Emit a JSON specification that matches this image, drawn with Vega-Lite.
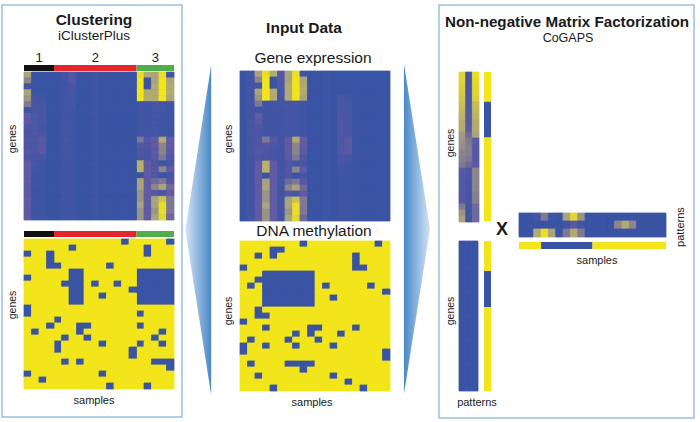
{
"$schema":"https://vega.github.io/schema/vega-lite/v6.json",
"width":700,"height":422,"autosize":"none","padding":0,"background":"white",
"config":{"view":{"stroke":null},"text":{"font":"Liberation Sans","fill":"#1a1a1a"}},
"data":{"values":[{}]},
"datasets":{
"perm":[{"col":"c0","lc":"c4"},{"col":"c1","lc":"c5"},{"col":"c2","lc":"c0"},{"col":"c3","lc":"c15"},{"col":"c4","lc":"c16"},{"col":"c5","lc":"c6"},{"col":"c6","lc":"c17"},{"col":"c7","lc":"c18"},{"col":"c8","lc":"c19"},{"col":"c9","lc":"c7"},{"col":"c10","lc":"c8"},{"col":"c11","lc":"c9"},{"col":"c12","lc":"c10"},{"col":"c13","lc":"c1"},{"col":"c14","lc":"c2"},{"col":"c15","lc":"c3"},{"col":"c16","lc":"c11"},{"col":"c17","lc":"c12"},{"col":"c18","lc":"c13"},{"col":"c19","lc":"c14"}],
"clusters":[{"k":"1","from":0,"to":4},{"k":"2","from":4,"to":15},{"k":"3","from":15,"to":20}],
"expr":[
{"r":0,"c0":0,"c1":0.05,"c2":0.55,"c3":0.95,"c4":0.6,"c5":0.2,"c6":0.55,"c7":0.95,"c8":0.05,"c9":0,"c10":0,"c11":0.03,"c12":0,"c13":0,"c14":0,"c15":0,"c16":0,"c17":0,"c18":0,"c19":0},
{"r":1,"c0":0,"c1":0.05,"c2":0.45,"c3":1,"c4":0.02,"c5":0.2,"c6":0.55,"c7":1,"c8":0.55,"c9":0,"c10":0,"c11":0.03,"c12":0,"c13":0,"c14":0,"c15":0,"c16":0,"c17":0,"c18":0,"c19":0},
{"r":2,"c0":0,"c1":0.05,"c2":0.05,"c3":1,"c4":0.02,"c5":0.15,"c6":0.6,"c7":1,"c8":0.6,"c9":0,"c10":0,"c11":0.03,"c12":0,"c13":0,"c14":0,"c15":0,"c16":0,"c17":0,"c18":0,"c19":0},
{"r":3,"c0":0,"c1":0.05,"c2":0.55,"c3":1,"c4":0.6,"c5":0.1,"c6":0.6,"c7":1,"c8":0.6,"c9":0,"c10":0,"c11":0.03,"c12":0,"c13":0,"c14":0,"c15":0,"c16":0,"c17":0,"c18":0,"c19":0},
{"r":4,"c0":0,"c1":0.05,"c2":0.5,"c3":1,"c4":0.6,"c5":0.1,"c6":0.6,"c7":1,"c8":0.55,"c9":0,"c10":0,"c11":0.03,"c12":0,"c13":0.12,"c14":0.05,"c15":0,"c16":0,"c17":0,"c18":0,"c19":0},
{"r":5,"c0":0,"c1":0.05,"c2":0.4,"c3":0.05,"c4":0.05,"c5":0.08,"c6":0.1,"c7":0.08,"c8":0.05,"c9":0,"c10":0,"c11":0.03,"c12":0,"c13":0.12,"c14":0.1,"c15":0,"c16":0,"c17":0,"c18":0,"c19":0},
{"r":6,"c0":0,"c1":0.05,"c2":0.02,"c3":0.05,"c4":0.05,"c5":0.06,"c6":0.08,"c7":0.06,"c8":0.04,"c9":0,"c10":0,"c11":0.03,"c12":0,"c13":0.12,"c14":0.1,"c15":0,"c16":0,"c17":0,"c18":0,"c19":0},
{"r":7,"c0":0,"c1":0.05,"c2":0.3,"c3":0.05,"c4":0.05,"c5":0.06,"c6":0.08,"c7":0.06,"c8":0.04,"c9":0,"c10":0,"c11":0.03,"c12":0,"c13":0.15,"c14":0.1,"c15":0,"c16":0,"c17":0,"c18":0,"c19":0},
{"r":8,"c0":0,"c1":0.08,"c2":0.25,"c3":0.05,"c4":0.05,"c5":0.06,"c6":0.08,"c7":0.06,"c8":0.04,"c9":0,"c10":0,"c11":0.03,"c12":0,"c13":0.15,"c14":0.12,"c15":0,"c16":0,"c17":0,"c18":0,"c19":0},
{"r":9,"c0":0,"c1":0.1,"c2":0.15,"c3":0.05,"c4":0.05,"c5":0.06,"c6":0.08,"c7":0.06,"c8":0.04,"c9":0,"c10":0,"c11":0.03,"c12":0,"c13":0.15,"c14":0.1,"c15":0,"c16":0,"c17":0,"c18":0,"c19":0},
{"r":10,"c0":0,"c1":0.1,"c2":0.12,"c3":0.05,"c4":0.05,"c5":0.06,"c6":0.1,"c7":0.06,"c8":0.04,"c9":0,"c10":0,"c11":0.03,"c12":0,"c13":0.15,"c14":0.12,"c15":0,"c16":0,"c17":0,"c18":0,"c19":0},
{"r":11,"c0":0,"c1":0.08,"c2":0.15,"c3":0.4,"c4":0.2,"c5":0.06,"c6":0.3,"c7":0.6,"c8":0.3,"c9":0,"c10":0,"c11":0.03,"c12":0,"c13":0.15,"c14":0.25,"c15":0,"c16":0,"c17":0,"c18":0,"c19":0},
{"r":12,"c0":0,"c1":0.08,"c2":0.15,"c3":0.2,"c4":0.15,"c5":0.06,"c6":0.3,"c7":0.45,"c8":0.3,"c9":0,"c10":0,"c11":0.03,"c12":0,"c13":0.15,"c14":0.25,"c15":0,"c16":0,"c17":0,"c18":0,"c19":0},
{"r":13,"c0":0,"c1":0.08,"c2":0.2,"c3":0.15,"c4":0.12,"c5":0.06,"c6":0.28,"c7":0.45,"c8":0.25,"c9":0,"c10":0,"c11":0.03,"c12":0,"c13":0.15,"c14":0.25,"c15":0,"c16":0,"c17":0,"c18":0,"c19":0},
{"r":14,"c0":0,"c1":0.06,"c2":0.15,"c3":0.12,"c4":0.1,"c5":0.06,"c6":0.25,"c7":0.4,"c8":0.15,"c9":0,"c10":0,"c11":0.03,"c12":0,"c13":0.12,"c14":0.08,"c15":0,"c16":0,"c17":0,"c18":0,"c19":0},
{"r":15,"c0":0,"c1":0.06,"c2":0.3,"c3":0.65,"c4":0.3,"c5":0.06,"c6":0.15,"c7":0.05,"c8":0.1,"c9":0,"c10":0,"c11":0.03,"c12":0,"c13":0.1,"c14":0.05,"c15":0,"c16":0,"c17":0,"c18":0,"c19":0},
{"r":16,"c0":0,"c1":0.06,"c2":0.3,"c3":0.65,"c4":0.3,"c5":0.06,"c6":0.2,"c7":0.45,"c8":0.3,"c9":0,"c10":0,"c11":0.03,"c12":0,"c13":0.05,"c14":0.03,"c15":0,"c16":0,"c17":0,"c18":0,"c19":0},
{"r":17,"c0":0,"c1":0.06,"c2":0.3,"c3":0,"c4":0.3,"c5":0.06,"c6":0.15,"c7":0,"c8":0.1,"c9":0,"c10":0,"c11":0.03,"c12":0,"c13":0.03,"c14":0.03,"c15":0,"c16":0,"c17":0,"c18":0,"c19":0},
{"r":18,"c0":0,"c1":0.06,"c2":0.3,"c3":0.55,"c4":0.3,"c5":0.06,"c6":0.35,"c7":0.4,"c8":0.2,"c9":0,"c10":0,"c11":0.03,"c12":0,"c13":0.03,"c14":0.03,"c15":0,"c16":0,"c17":0,"c18":0,"c19":0},
{"r":19,"c0":0,"c1":0.06,"c2":0.28,"c3":0.55,"c4":0.3,"c5":0.06,"c6":0.45,"c7":0.55,"c8":0.35,"c9":0,"c10":0,"c11":0.03,"c12":0,"c13":0.03,"c14":0.03,"c15":0,"c16":0,"c17":0,"c18":0,"c19":0},
{"r":20,"c0":0,"c1":0.06,"c2":0.28,"c3":0.5,"c4":0.3,"c5":0.06,"c6":0.2,"c7":0.1,"c8":0.3,"c9":0,"c10":0,"c11":0.03,"c12":0,"c13":0.03,"c14":0.03,"c15":0,"c16":0,"c17":0,"c18":0,"c19":0},
{"r":21,"c0":0,"c1":0.06,"c2":0.3,"c3":0.5,"c4":0.28,"c5":0.06,"c6":0.55,"c7":0.75,"c8":0.4,"c9":0,"c10":0,"c11":0.03,"c12":0,"c13":0.03,"c14":0.03,"c15":0,"c16":0,"c17":0,"c18":0,"c19":0},
{"r":22,"c0":0,"c1":0.06,"c2":0.3,"c3":0.55,"c4":0.3,"c5":0.06,"c6":0.55,"c7":0.95,"c8":0.4,"c9":0,"c10":0,"c11":0.03,"c12":0,"c13":0.03,"c14":0.03,"c15":0,"c16":0,"c17":0,"c18":0,"c19":0},
{"r":23,"c0":0,"c1":0.06,"c2":0.28,"c3":0.5,"c4":0.3,"c5":0.06,"c6":0.5,"c7":0.95,"c8":0.4,"c9":0,"c10":0,"c11":0.03,"c12":0,"c13":0.03,"c14":0.03,"c15":0,"c16":0,"c17":0,"c18":0,"c19":0},
{"r":24,"c0":0,"c1":0.06,"c2":0.3,"c3":0.5,"c4":0.3,"c5":0.06,"c6":0.55,"c7":0.9,"c8":0.35,"c9":0,"c10":0,"c11":0.03,"c12":0,"c13":0.03,"c14":0.03,"c15":0,"c16":0,"c17":0,"c18":0,"c19":0}
],
"meth":[
{"r":0,"c0":1,"c1":1,"c2":1,"c3":1,"c4":1,"c5":1,"c6":1,"c7":1,"c8":0,"c9":1,"c10":1,"c11":1,"c12":1,"c13":1,"c14":1,"c15":1,"c16":1,"c17":1,"c18":0,"c19":1},
{"r":1,"c0":1,"c1":1,"c2":1,"c3":1,"c4":0,"c5":0,"c6":1,"c7":1,"c8":1,"c9":1,"c10":1,"c11":1,"c12":1,"c13":1,"c14":1,"c15":1,"c16":1,"c17":1,"c18":1,"c19":1},
{"r":2,"c0":1,"c1":1,"c2":0,"c3":1,"c4":0,"c5":1,"c6":1,"c7":1,"c8":1,"c9":1,"c10":1,"c11":1,"c12":1,"c13":1,"c14":1,"c15":0,"c16":1,"c17":1,"c18":1,"c19":1},
{"r":3,"c0":1,"c1":1,"c2":1,"c3":1,"c4":1,"c5":1,"c6":1,"c7":1,"c8":1,"c9":1,"c10":1,"c11":1,"c12":1,"c13":1,"c14":1,"c15":0,"c16":1,"c17":1,"c18":1,"c19":1},
{"r":4,"c0":0,"c1":1,"c2":1,"c3":1,"c4":1,"c5":1,"c6":1,"c7":1,"c8":1,"c9":1,"c10":1,"c11":1,"c12":1,"c13":1,"c14":1,"c15":0,"c16":0,"c17":1,"c18":1,"c19":1},
{"r":5,"c0":1,"c1":1,"c2":1,"c3":0,"c4":0,"c5":0,"c6":0,"c7":0,"c8":0,"c9":0,"c10":1,"c11":1,"c12":1,"c13":1,"c14":1,"c15":1,"c16":1,"c17":1,"c18":1,"c19":1},
{"r":6,"c0":1,"c1":1,"c2":0,"c3":0,"c4":0,"c5":0,"c6":0,"c7":0,"c8":0,"c9":0,"c10":1,"c11":1,"c12":1,"c13":1,"c14":1,"c15":1,"c16":1,"c17":1,"c18":1,"c19":1},
{"r":7,"c0":1,"c1":0,"c2":1,"c3":0,"c4":0,"c5":0,"c6":0,"c7":0,"c8":0,"c9":0,"c10":1,"c11":0,"c12":1,"c13":1,"c14":1,"c15":1,"c16":1,"c17":0,"c18":1,"c19":1},
{"r":8,"c0":1,"c1":1,"c2":1,"c3":0,"c4":0,"c5":0,"c6":0,"c7":0,"c8":0,"c9":0,"c10":1,"c11":1,"c12":1,"c13":1,"c14":1,"c15":1,"c16":1,"c17":1,"c18":1,"c19":0},
{"r":9,"c0":1,"c1":1,"c2":1,"c3":0,"c4":0,"c5":0,"c6":0,"c7":0,"c8":0,"c9":0,"c10":1,"c11":1,"c12":0,"c13":1,"c14":1,"c15":1,"c16":1,"c17":1,"c18":1,"c19":1},
{"r":10,"c0":1,"c1":1,"c2":1,"c3":0,"c4":0,"c5":0,"c6":0,"c7":0,"c8":0,"c9":0,"c10":1,"c11":1,"c12":1,"c13":1,"c14":1,"c15":1,"c16":1,"c17":1,"c18":1,"c19":1},
{"r":11,"c0":1,"c1":1,"c2":0,"c3":1,"c4":1,"c5":1,"c6":1,"c7":1,"c8":1,"c9":1,"c10":1,"c11":1,"c12":1,"c13":1,"c14":1,"c15":1,"c16":1,"c17":1,"c18":1,"c19":1},
{"r":12,"c0":1,"c1":1,"c2":0,"c3":0,"c4":1,"c5":1,"c6":1,"c7":1,"c8":1,"c9":1,"c10":1,"c11":1,"c12":1,"c13":1,"c14":1,"c15":1,"c16":1,"c17":1,"c18":1,"c19":1},
{"r":13,"c0":0,"c1":1,"c2":1,"c3":1,"c4":1,"c5":1,"c6":1,"c7":1,"c8":1,"c9":1,"c10":1,"c11":1,"c12":1,"c13":1,"c14":1,"c15":1,"c16":1,"c17":1,"c18":1,"c19":1},
{"r":14,"c0":1,"c1":1,"c2":1,"c3":0,"c4":1,"c5":1,"c6":1,"c7":1,"c8":1,"c9":0,"c10":0,"c11":1,"c12":1,"c13":1,"c14":1,"c15":0,"c16":1,"c17":1,"c18":1,"c19":1},
{"r":15,"c0":1,"c1":1,"c2":1,"c3":1,"c4":1,"c5":1,"c6":1,"c7":0,"c8":1,"c9":0,"c10":1,"c11":1,"c12":1,"c13":0,"c14":1,"c15":1,"c16":1,"c17":1,"c18":1,"c19":1},
{"r":16,"c0":1,"c1":0,"c2":1,"c3":1,"c4":1,"c5":1,"c6":0,"c7":1,"c8":1,"c9":1,"c10":0,"c11":1,"c12":1,"c13":1,"c14":1,"c15":1,"c16":1,"c17":1,"c18":1,"c19":1},
{"r":17,"c0":0,"c1":1,"c2":1,"c3":0,"c4":1,"c5":1,"c6":1,"c7":0,"c8":1,"c9":1,"c10":1,"c11":1,"c12":0,"c13":1,"c14":1,"c15":1,"c16":1,"c17":1,"c18":1,"c19":1},
{"r":18,"c0":0,"c1":1,"c2":1,"c3":1,"c4":1,"c5":1,"c6":1,"c7":1,"c8":1,"c9":1,"c10":1,"c11":1,"c12":1,"c13":1,"c14":1,"c15":1,"c16":1,"c17":1,"c18":1,"c19":0},
{"r":19,"c0":1,"c1":1,"c2":1,"c3":1,"c4":1,"c5":1,"c6":1,"c7":1,"c8":1,"c9":1,"c10":1,"c11":1,"c12":1,"c13":1,"c14":1,"c15":1,"c16":1,"c17":1,"c18":1,"c19":0},
{"r":20,"c0":1,"c1":0,"c2":1,"c3":1,"c4":1,"c5":1,"c6":0,"c7":0,"c8":0,"c9":0,"c10":1,"c11":1,"c12":1,"c13":1,"c14":1,"c15":1,"c16":1,"c17":1,"c18":1,"c19":1},
{"r":21,"c0":1,"c1":1,"c2":1,"c3":1,"c4":1,"c5":1,"c6":1,"c7":1,"c8":0,"c9":1,"c10":1,"c11":1,"c12":1,"c13":1,"c14":1,"c15":1,"c16":1,"c17":1,"c18":1,"c19":1},
{"r":22,"c0":1,"c1":1,"c2":0,"c3":1,"c4":1,"c5":1,"c6":1,"c7":1,"c8":1,"c9":1,"c10":1,"c11":1,"c12":0,"c13":1,"c14":1,"c15":1,"c16":1,"c17":1,"c18":1,"c19":1},
{"r":23,"c0":1,"c1":1,"c2":1,"c3":1,"c4":1,"c5":1,"c6":1,"c7":1,"c8":1,"c9":1,"c10":1,"c11":1,"c12":1,"c13":1,"c14":0,"c15":1,"c16":1,"c17":1,"c18":1,"c19":1},
{"r":24,"c0":1,"c1":1,"c2":1,"c3":1,"c4":0,"c5":1,"c6":1,"c7":1,"c8":1,"c9":1,"c10":1,"c11":1,"c12":1,"c13":1,"c14":1,"c15":1,"c16":0,"c17":1,"c18":1,"c19":1}
],
"amat":[
{"r":0,"p1":0.9,"p2":0.1,"p3":0.95},{"r":1,"p1":0.88,"p2":0.1,"p3":0.92},{"r":2,"p1":0.85,"p2":0.12,"p3":0.9},{"r":3,"p1":0.82,"p2":0.12,"p3":0.88},{"r":4,"p1":0.78,"p2":0.15,"p3":0.85},
{"r":5,"p1":0.75,"p2":0.15,"p3":0.72},{"r":6,"p1":0.7,"p2":0.18,"p3":0.7},{"r":7,"p1":0.66,"p2":0.2,"p3":0.66},{"r":8,"p1":0.62,"p2":0.2,"p3":0.62},{"r":9,"p1":0.6,"p2":0.25,"p3":0.6},
{"r":10,"p1":0.52,"p2":0.35,"p3":0.55},{"r":11,"p1":0.5,"p2":0.4,"p3":0.25},{"r":12,"p1":0.48,"p2":0.42,"p3":0.22},{"r":13,"p1":0.45,"p2":0.42,"p3":0.2},{"r":14,"p1":0.42,"p2":0.4,"p3":0.2},
{"r":15,"p1":0.4,"p2":0.35,"p3":0.25},{"r":16,"p1":0.25,"p2":0.15,"p3":0.45},{"r":17,"p1":0.2,"p2":0.12,"p3":0.45},{"r":18,"p1":0.18,"p2":0.1,"p3":0.45},{"r":19,"p1":0.18,"p2":0.1,"p3":0.45},
{"r":20,"p1":0.2,"p2":0.1,"p3":0.42},{"r":21,"p1":0.22,"p2":0.08,"p3":0.42},{"r":22,"p1":0.4,"p2":0.08,"p3":0.35},{"r":23,"p1":0.5,"p2":0.05,"p3":0.35},{"r":24,"p1":0.55,"p2":0.05,"p3":0.35}
],
"amat2":[
{"r":0,"p1":0,"p2":0,"p3":0},{"r":1,"p1":0,"p2":0,"p3":0},{"r":2,"p1":0,"p2":0,"p3":0},{"r":3,"p1":0,"p2":0,"p3":0},{"r":4,"p1":0,"p2":0,"p3":0},
{"r":5,"p1":0,"p2":0,"p3":0},{"r":6,"p1":0,"p2":0,"p3":0},{"r":7,"p1":0,"p2":0,"p3":0},{"r":8,"p1":0,"p2":0,"p3":0},{"r":9,"p1":0,"p2":0,"p3":0},
{"r":10,"p1":0,"p2":0,"p3":0},{"r":11,"p1":0,"p2":0,"p3":0},{"r":12,"p1":0,"p2":0,"p3":0},{"r":13,"p1":0,"p2":0,"p3":0},{"r":14,"p1":0,"p2":0,"p3":0},
{"r":15,"p1":0,"p2":0,"p3":0},{"r":16,"p1":0,"p2":0,"p3":0},{"r":17,"p1":0,"p2":0,"p3":0},{"r":18,"p1":0,"p2":0,"p3":0},{"r":19,"p1":0,"p2":0,"p3":0},
{"r":20,"p1":0,"p2":0,"p3":0},{"r":21,"p1":0,"p2":0,"p3":0},{"r":22,"p1":0,"p2":0,"p3":0},{"r":23,"p1":0,"p2":0,"p3":0},{"r":24,"p1":0,"p2":0,"p3":0}
],
"pmat":[
{"pattern":"p1","c0":0,"c1":0,"c2":0.05,"c3":0.4,"c4":0.05,"c5":0.02,"c6":0.55,"c7":0.9,"c8":0.5,"c9":0,"c10":0,"c11":0,"c12":0,"c13":0,"c14":0,"c15":0,"c16":0,"c17":0,"c18":0,"c19":0},
{"pattern":"p2","c0":0,"c1":0,"c2":0,"c3":0,"c4":0,"c5":0,"c6":0.05,"c7":0.25,"c8":0.05,"c9":0,"c10":0,"c11":0,"c12":0,"c13":0.45,"c14":0.6,"c15":0.45,"c16":0,"c17":0,"c18":0,"c19":0},
{"pattern":"p3","c0":0,"c1":0,"c2":0.6,"c3":0.95,"c4":0.55,"c5":0.02,"c6":0.4,"c7":0.6,"c8":0.4,"c9":0,"c10":0,"c11":0,"c12":0,"c13":0,"c14":0,"c15":0,"c16":0,"c17":0,"c18":0,"c19":0}
],
"pstrip":[{"from":0,"to":3,"v":1},{"from":3,"to":10,"v":0},{"from":10,"to":20,"v":1}],
"astrip":[{"from":0,"to":5,"v":1},{"from":5,"to":11,"v":0},{"from":11,"to":25,"v":1}]
},
"resolve":{"scale":{"x":"independent","y":"independent","color":"independent","stroke":"independent"}},
"layer":[
{"mark":{"type":"rect","x":2,"x2":182,"y":5,"y2":417,"fill":"white","fillOpacity":0,"stroke":"#9dbfe1","strokeWidth":1.5}},
{"mark":{"type":"rect","x":439,"x2":694,"y":5,"y2":418,"fill":"white","fillOpacity":0,"stroke":"#9dbfe1","strokeWidth":1.5}},
{"mark":{"type":"point","shape":"M 0.077 -1 L 0.077 1 L -0.08 0 Z","size":108900,"x":198.5,"y":230,"filled":true,"opacity":1,"strokeWidth":0,"fill":{"gradient":"linear","x1":0,"y1":0,"x2":1,"y2":0,"stops":[{"offset":0,"color":"#d3e5f5"},{"offset":1,"color":"#4a88c8"}]}}},
{"mark":{"type":"point","shape":"M -0.079 -1 L -0.079 1 L 0.079 0 Z","size":108900,"x":417,"y":229,"filled":true,"opacity":1,"strokeWidth":0,"fill":{"gradient":"linear","x1":0,"y1":0,"x2":1,"y2":0,"stops":[{"offset":0,"color":"#4a88c8"},{"offset":1,"color":"#d3e5f5"}]}}},
{"mark":{"type":"rect","x":24,"x2":174,"y":72,"y2":220,"fill":"#3a54a4"}},
{"mark":{"type":"rect","x":24,"x2":174,"y":239,"y2":389,"fill":"#f2e51b"}},
{"mark":{"type":"rect","x":240,"x2":390,"y":71,"y2":221,"fill":"#3a54a4"}},
{"mark":{"type":"rect","x":240,"x2":390,"y":241,"y2":391,"fill":"#f2e51b"}},
{"mark":{"type":"rect","x":519,"x2":666,"y":213,"y2":237,"fill":"#3a54a4"}},
{"data":{"name":"expr"},
 "transform":[{"fold":["c0","c1","c2","c3","c4","c5","c6","c7","c8","c9","c10","c11","c12","c13","c14","c15","c16","c17","c18","c19"],"as":["col","v"]},{"lookup":"col","from":{"data":{"name":"perm"},"key":"col","fields":["lc"]}}],
 "mark":{"type":"rect","strokeWidth":0.8},
 "encoding":{
  "x":{"field":"lc","type":"ordinal","axis":null,"scale":{"domain":["c0","c1","c2","c3","c4","c5","c6","c7","c8","c9","c10","c11","c12","c13","c14","c15","c16","c17","c18","c19"],"range":[24,174],"paddingInner":0,"paddingOuter":0}},
  "y":{"field":"r","type":"ordinal","axis":null,"scale":{"domain":[0,1,2,3,4,5,6,7,8,9,10,11,12,13,14,15,16,17,18,19,20,21,22,23,24],"range":[72,220],"paddingInner":0,"paddingOuter":0}},
  "color":{"field":"v","type":"quantitative","legend":null,"scale":{"domain":[0,0.3,0.55,1],"range":["#3a54a4","#615aa4","#a9a47c","#f2e51b"],"interpolate":"rgb"}},
  "stroke":{"field":"v","type":"quantitative","legend":null,"scale":{"domain":[0,0.3,0.55,1],"range":["#3a54a4","#615aa4","#a9a47c","#f2e51b"],"interpolate":"rgb"}}
 }},
{"data":{"name":"meth"},
 "transform":[{"fold":["c0","c1","c2","c3","c4","c5","c6","c7","c8","c9","c10","c11","c12","c13","c14","c15","c16","c17","c18","c19"],"as":["col","v"]},{"lookup":"col","from":{"data":{"name":"perm"},"key":"col","fields":["lc"]}}],
 "mark":{"type":"rect","strokeWidth":0.8},
 "encoding":{
  "x":{"field":"lc","type":"ordinal","axis":null,"scale":{"domain":["c0","c1","c2","c3","c4","c5","c6","c7","c8","c9","c10","c11","c12","c13","c14","c15","c16","c17","c18","c19"],"range":[24,174],"paddingInner":0,"paddingOuter":0}},
  "y":{"field":"r","type":"ordinal","axis":null,"scale":{"domain":[0,1,2,3,4,5,6,7,8,9,10,11,12,13,14,15,16,17,18,19,20,21,22,23,24],"range":[239,389],"paddingInner":0,"paddingOuter":0}},
  "color":{"field":"v","type":"quantitative","legend":null,"scale":{"domain":[0,0.3,0.55,1],"range":["#3a54a4","#615aa4","#a9a47c","#f2e51b"],"interpolate":"rgb"}},
  "stroke":{"field":"v","type":"quantitative","legend":null,"scale":{"domain":[0,0.3,0.55,1],"range":["#3a54a4","#615aa4","#a9a47c","#f2e51b"],"interpolate":"rgb"}}
 }},
{"data":{"name":"expr"},
 "transform":[{"fold":["c0","c1","c2","c3","c4","c5","c6","c7","c8","c9","c10","c11","c12","c13","c14","c15","c16","c17","c18","c19"],"as":["col","v"]}],
 "mark":{"type":"rect","strokeWidth":0.8},
 "encoding":{
  "x":{"field":"col","type":"ordinal","axis":null,"scale":{"domain":["c0","c1","c2","c3","c4","c5","c6","c7","c8","c9","c10","c11","c12","c13","c14","c15","c16","c17","c18","c19"],"range":[240,390],"paddingInner":0,"paddingOuter":0}},
  "y":{"field":"r","type":"ordinal","axis":null,"scale":{"domain":[0,1,2,3,4,5,6,7,8,9,10,11,12,13,14,15,16,17,18,19,20,21,22,23,24],"range":[71,221],"paddingInner":0,"paddingOuter":0}},
  "color":{"field":"v","type":"quantitative","legend":null,"scale":{"domain":[0,0.3,0.55,1],"range":["#3a54a4","#615aa4","#a9a47c","#f2e51b"],"interpolate":"rgb"}},
  "stroke":{"field":"v","type":"quantitative","legend":null,"scale":{"domain":[0,0.3,0.55,1],"range":["#3a54a4","#615aa4","#a9a47c","#f2e51b"],"interpolate":"rgb"}}
 }},
{"data":{"name":"meth"},
 "transform":[{"fold":["c0","c1","c2","c3","c4","c5","c6","c7","c8","c9","c10","c11","c12","c13","c14","c15","c16","c17","c18","c19"],"as":["col","v"]}],
 "mark":{"type":"rect","strokeWidth":0.8},
 "encoding":{
  "x":{"field":"col","type":"ordinal","axis":null,"scale":{"domain":["c0","c1","c2","c3","c4","c5","c6","c7","c8","c9","c10","c11","c12","c13","c14","c15","c16","c17","c18","c19"],"range":[240,390],"paddingInner":0,"paddingOuter":0}},
  "y":{"field":"r","type":"ordinal","axis":null,"scale":{"domain":[0,1,2,3,4,5,6,7,8,9,10,11,12,13,14,15,16,17,18,19,20,21,22,23,24],"range":[241,391],"paddingInner":0,"paddingOuter":0}},
  "color":{"field":"v","type":"quantitative","legend":null,"scale":{"domain":[0,0.3,0.55,1],"range":["#3a54a4","#615aa4","#a9a47c","#f2e51b"],"interpolate":"rgb"}},
  "stroke":{"field":"v","type":"quantitative","legend":null,"scale":{"domain":[0,0.3,0.55,1],"range":["#3a54a4","#615aa4","#a9a47c","#f2e51b"],"interpolate":"rgb"}}
 }},
{"data":{"name":"amat"},
 "transform":[{"fold":["p1","p2","p3"],"as":["pattern","v"]}],
 "mark":{"type":"rect","strokeWidth":0.8},
 "encoding":{
  "x":{"field":"pattern","type":"ordinal","axis":null,"scale":{"domain":["p1","p2","p3"],"range":[459,479],"paddingInner":0,"paddingOuter":0}},
  "y":{"field":"r","type":"ordinal","axis":null,"scale":{"domain":[0,1,2,3,4,5,6,7,8,9,10,11,12,13,14,15,16,17,18,19,20,21,22,23,24],"range":[72,222],"paddingInner":0,"paddingOuter":0}},
  "color":{"field":"v","type":"quantitative","legend":null,"scale":{"domain":[0,0.3,0.55,1],"range":["#3a54a4","#615aa4","#a9a47c","#f2e51b"],"interpolate":"rgb"}},
  "stroke":{"field":"v","type":"quantitative","legend":null,"scale":{"domain":[0,0.3,0.55,1],"range":["#3a54a4","#615aa4","#a9a47c","#f2e51b"],"interpolate":"rgb"}}
 }},
{"data":{"name":"amat2"},
 "transform":[{"fold":["p1","p2","p3"],"as":["pattern","v"]}],
 "mark":{"type":"rect","strokeWidth":0.8},
 "encoding":{
  "x":{"field":"pattern","type":"ordinal","axis":null,"scale":{"domain":["p1","p2","p3"],"range":[459,478],"paddingInner":0,"paddingOuter":0}},
  "y":{"field":"r","type":"ordinal","axis":null,"scale":{"domain":[0,1,2,3,4,5,6,7,8,9,10,11,12,13,14,15,16,17,18,19,20,21,22,23,24],"range":[241,391],"paddingInner":0,"paddingOuter":0}},
  "color":{"field":"v","type":"quantitative","legend":null,"scale":{"domain":[0,0.3,0.55,1],"range":["#3a54a4","#615aa4","#a9a47c","#f2e51b"],"interpolate":"rgb"}},
  "stroke":{"field":"v","type":"quantitative","legend":null,"scale":{"domain":[0,0.3,0.55,1],"range":["#3a54a4","#615aa4","#a9a47c","#f2e51b"],"interpolate":"rgb"}}
 }},
{"data":{"name":"pmat"},
 "transform":[{"fold":["c0","c1","c2","c3","c4","c5","c6","c7","c8","c9","c10","c11","c12","c13","c14","c15","c16","c17","c18","c19"],"as":["col","v"]}],
 "mark":{"type":"rect","strokeWidth":0.8},
 "encoding":{
  "x":{"field":"col","type":"ordinal","axis":null,"scale":{"domain":["c0","c1","c2","c3","c4","c5","c6","c7","c8","c9","c10","c11","c12","c13","c14","c15","c16","c17","c18","c19"],"range":[519,666],"paddingInner":0,"paddingOuter":0}},
  "y":{"field":"pattern","type":"ordinal","axis":null,"scale":{"domain":["p1","p2","p3"],"range":[213,237],"paddingInner":0,"paddingOuter":0}},
  "color":{"field":"v","type":"quantitative","legend":null,"scale":{"domain":[0,0.3,0.55,1],"range":["#3a54a4","#615aa4","#a9a47c","#f2e51b"],"interpolate":"rgb"}},
  "stroke":{"field":"v","type":"quantitative","legend":null,"scale":{"domain":[0,0.3,0.55,1],"range":["#3a54a4","#615aa4","#a9a47c","#f2e51b"],"interpolate":"rgb"}}
 }},
{"data":{"name":"pstrip"},
 "mark":{"type":"rect"},
 "encoding":{
  "x":{"field":"from","type":"quantitative","axis":null,"scale":{"domain":[0,20],"range":[519,666]}},
  "x2":{"field":"to"},
  "y":{"value":242},"y2":{"value":249},
  "color":{"field":"v","type":"quantitative","legend":null,"scale":{"domain":[0,1],"range":["#3a54a4","#f2e51b"]}}
 }},
{"data":{"name":"astrip"},
 "mark":{"type":"rect"},
 "encoding":{
  "y":{"field":"from","type":"quantitative","axis":null,"scale":{"domain":[0,25],"range":[72,221]}},
  "y2":{"field":"to"},
  "x":{"value":484},"x2":{"value":491},
  "color":{"field":"v","type":"quantitative","legend":null,"scale":{"domain":[0,1],"range":["#3a54a4","#f2e51b"]}}
 }},
{"data":{"name":"astrip"},
 "mark":{"type":"rect"},
 "encoding":{
  "y":{"field":"from","type":"quantitative","axis":null,"scale":{"domain":[0,25],"range":[241,391]}},
  "y2":{"field":"to"},
  "x":{"value":484},"x2":{"value":491},
  "color":{"field":"v","type":"quantitative","legend":null,"scale":{"domain":[0,1],"range":["#3a54a4","#f2e51b"]}}
 }},
{"data":{"name":"clusters"},
 "mark":{"type":"rect"},
 "encoding":{
  "x":{"field":"from","type":"quantitative","axis":null,"scale":{"domain":[0,20],"range":[24,174]}},
  "x2":{"field":"to"},
  "y":{"value":65},"y2":{"value":71},
  "color":{"field":"k","type":"nominal","legend":null,"scale":{"domain":["1","2","3"],"range":["#111111","#e3262b","#4fae4a"]}}
 }},
{"data":{"name":"clusters"},
 "mark":{"type":"rect"},
 "encoding":{
  "x":{"field":"from","type":"quantitative","axis":null,"scale":{"domain":[0,20],"range":[24,174]}},
  "x2":{"field":"to"},
  "y":{"value":231},"y2":{"value":237},
  "color":{"field":"k","type":"nominal","legend":null,"scale":{"domain":["1","2","3"],"range":["#111111","#e3262b","#4fae4a"]}}
 }},
{"data":{"name":"clusters"},
 "transform":[{"fold":["from","to"],"as":["edge","pos"]}],
 "mark":{"type":"text","fontSize":13,"baseline":"alphabetic","align":"center"},
 "encoding":{
  "x":{"field":"pos","aggregate":"mean","type":"quantitative","axis":null,"scale":{"domain":[0,20],"range":[24,174]}},
  "y":{"value":62},
  "text":{"field":"k","type":"nominal"}
 }},
{"mark":{"type":"text","text":"Clustering","x":94,"y":25,"fontSize":15.5,"fontWeight":"bold","align":"center","baseline":"alphabetic"}},
{"mark":{"type":"text","text":"iClusterPlus","x":94,"y":40,"fontSize":13.5,"align":"center","baseline":"alphabetic"}},
{"mark":{"type":"text","text":"Input Data","x":304,"y":33,"fontSize":15.5,"fontWeight":"bold","align":"center","baseline":"alphabetic"}},
{"mark":{"type":"text","text":"Gene expression","x":313,"y":63,"fontSize":15.5,"align":"center","baseline":"alphabetic"}},
{"mark":{"type":"text","text":"DNA methylation","x":314,"y":236,"fontSize":15.5,"align":"center","baseline":"alphabetic"}},
{"mark":{"type":"text","text":"Non-negative Matrix Factorization","x":567,"y":27,"fontSize":15.2,"fontWeight":"bold","align":"center","baseline":"alphabetic"}},
{"mark":{"type":"text","text":"CoGAPS","x":568,"y":41.5,"fontSize":12.5,"align":"center","baseline":"alphabetic"}},
{"mark":{"type":"text","text":"genes","x":13,"y":139,"angle":270,"fontSize":10.5,"align":"center","baseline":"middle"}},
{"mark":{"type":"text","text":"genes","x":13,"y":305,"angle":270,"fontSize":10.5,"align":"center","baseline":"middle"}},
{"mark":{"type":"text","text":"genes","x":229,"y":139,"angle":270,"fontSize":10.5,"align":"center","baseline":"middle"}},
{"mark":{"type":"text","text":"genes","x":229,"y":311,"angle":270,"fontSize":10.5,"align":"center","baseline":"middle"}},
{"mark":{"type":"text","text":"genes","x":451,"y":143,"angle":270,"fontSize":10.5,"align":"center","baseline":"middle"}},
{"mark":{"type":"text","text":"genes","x":451,"y":311,"angle":270,"fontSize":10.5,"align":"center","baseline":"middle"}},
{"mark":{"type":"text","text":"samples","x":94,"y":404,"fontSize":11,"align":"center","baseline":"alphabetic"}},
{"mark":{"type":"text","text":"samples","x":312,"y":406,"fontSize":11,"align":"center","baseline":"alphabetic"}},
{"mark":{"type":"text","text":"samples","x":597,"y":264,"fontSize":11,"align":"center","baseline":"alphabetic"}},
{"mark":{"type":"text","text":"patterns","x":477,"y":406,"fontSize":11,"align":"center","baseline":"alphabetic"}},
{"mark":{"type":"text","text":"patterns","x":681,"y":227,"angle":270,"fontSize":11,"align":"center","baseline":"middle"}},
{"mark":{"type":"text","text":"X","x":502,"y":230,"fontSize":18,"fontWeight":"bold","align":"center","baseline":"middle"}}
]
}
